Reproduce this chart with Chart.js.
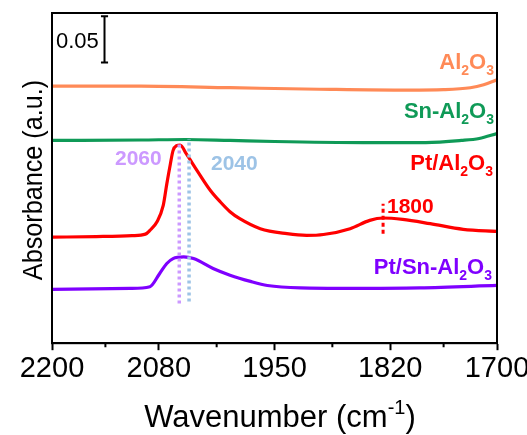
<!DOCTYPE html>
<html>
<head>
<meta charset="utf-8">
<script src="https://cdn.jsdelivr.net/npm/chart.js@4.4.1/dist/chart.umd.min.js"></script>
<style>
html,body{margin:0;padding:0;background:#fff;}
canvas{display:block;}
</style>
</head>
<body>
<canvas id="c" width="527" height="435"></canvas>
<script>
// ---- Data (wavenumber in cm-1, absorbance with vertical offsets) ----
const majorTicks = [2200, 2080, 1950, 1820, 1700];
const minorTicks = [2140, 2015, 1885, 1760];

const al2o3X = [2200, 2100, 2000, 1900, 1800, 1760, 1730, 1715, 1700];
const al2o3Y = [0.2724, 0.2724, 0.2708, 0.2692, 0.2682, 0.2687, 0.2708, 0.2740, 0.2793];

const snX = [2200, 2100, 2050, 2000, 1950, 1850, 1780, 1740, 1720, 1700];
const snY = [0.2149, 0.2154, 0.2159, 0.2149, 0.2138, 0.2127, 0.2127, 0.2149, 0.2170, 0.2222];

const ptX = [2200, 2150, 2110, 2095, 2090, 2082, 2075, 2071, 2067, 2064, 2060, 2056, 2049, 2037, 2022, 2011, 2000, 1989, 1966, 1936, 1914, 1895, 1865, 1843, 1828, 1806, 1775, 1738, 1700];
const ptY = [0.1124, 0.1130, 0.1140, 0.1156, 0.1196, 0.1288, 0.1460, 0.1689, 0.1900, 0.2041, 0.2094, 0.2101, 0.2006, 0.1830, 0.1619, 0.1499, 0.1394, 0.1320, 0.1214, 0.1161, 0.1143, 0.1152, 0.1214, 0.1302, 0.1327, 0.1312, 0.1267, 0.1207, 0.1186];

const ptSnX = [2200, 2112, 2090, 2079, 2071, 2064, 2052, 2041, 2019, 2000, 1977, 1958, 1921, 1865, 1787, 1700];
const ptSnY = [0.0570, 0.0581, 0.0599, 0.0739, 0.0845, 0.0897, 0.0915, 0.0897, 0.0792, 0.0721, 0.0655, 0.0612, 0.0586, 0.0581, 0.0586, 0.0612];

// reference markers: [wavenumber, yFrom, yTo]
const mark2060 = [2057, 0.0422, 0.2112];
const mark2040 = [2046, 0.0443, 0.2164];
const mark1800 = [1828, 0.1161, 0.1478];
// scale bar: [wavenumber, yBottom, yTop, halfCapWidth]
const scaleBar = [2141, 0.2974, 0.3466, 4];

const C_AL = '#FF8A57', C_SN = '#0F9A57', C_PT = '#FF0000', C_PTSN = '#7F00FF';
const C_2060 = '#CC99FF', C_2040 = '#9DC3E6';

function pts(xs, ys){ return xs.map((x,i)=>({x:x, y:ys[i]})); }
function vline(m){ return [{x:m[0], y:m[1]}, {x:m[0], y:m[2]}]; }

const sb = scaleBar;
const scaleBarPts = [
  {x:sb[0]+sb[3], y:sb[2]}, {x:sb[0]-sb[3], y:sb[2]}, {x:sb[0], y:null},
  {x:sb[0], y:sb[2]}, {x:sb[0], y:sb[1]}, {x:sb[0], y:null},
  {x:sb[0]+sb[3], y:sb[1]}, {x:sb[0]-sb[3], y:sb[1]}
];

const curve = (data, color) => ({data, order:1, borderColor:color, borderWidth:3.2, pointRadius:0, fill:false, cubicInterpolationMode:'monotone'});
const straight = (data, color, w, dash) => ({data, order:0, borderColor:color, borderWidth:w, pointRadius:0, fill:false, tension:0, borderDash:dash, borderCapStyle:'butt', spanGaps:false});

const FONT = "'Liberation Sans', Arial, sans-serif";

function drawRich(ctx, parts, x, y, align, color, size, bold){
  const w = bold ? 'bold ' : '';
  const small = Math.round(size*0.64);
  let total = 0;
  parts.forEach(p=>{
    ctx.font = w + (p[1] ? small : size) + 'px ' + FONT;
    total += ctx.measureText(p[0]).width;
  });
  let cx = align==='right' ? x-total : align==='center' ? x-total/2 : x;
  ctx.fillStyle = color;
  ctx.textBaseline = 'alphabetic';
  ctx.textAlign = 'left';
  parts.forEach(p=>{
    ctx.font = w + (p[1] ? small : size) + 'px ' + FONT;
    let dy = p[1]==='sub' ? size*0.27 : p[1]==='sup' ? -size*0.42 : 0;
    ctx.fillText(p[0], cx, y+dy);
    cx += ctx.measureText(p[0]).width;
  });
}

const decor = {
  id:'decor',
  afterDraw(chart){
    const ctx = chart.ctx, a = chart.chartArea, xs = chart.scales.x;
    ctx.save();
    // frame
    ctx.strokeStyle = '#000'; ctx.lineWidth = 2;
    ctx.strokeRect(a.left, a.top, a.right-a.left, a.bottom-a.top);
    // minor ticks
    ctx.beginPath();
    minorTicks.forEach(v=>{ const px = xs.getPixelForValue(v); ctx.moveTo(px, a.bottom); ctx.lineTo(px, a.bottom+4); });
    ctx.stroke();
    // labels
    drawRich(ctx, [['Al'],['2','sub'],['O'],['3','sub']], 494, 69, 'right', C_AL, 22, true);
    drawRich(ctx, [['Sn-Al'],['2','sub'],['O'],['3','sub']], 494, 118, 'right', C_SN, 22, true);
    drawRich(ctx, [['Pt/Al'],['2','sub'],['O'],['3','sub']], 493, 170, 'right', C_PT, 22, true);
    drawRich(ctx, [['Pt/Sn-Al'],['2','sub'],['O'],['3','sub']], 492, 274, 'right', C_PTSN, 22, true);
    drawRich(ctx, [['1800']], 387, 213, 'left', C_PT, 21, true);
    drawRich(ctx, [['2060']], 115, 165, 'left', C_2060, 21, true);
    drawRich(ctx, [['2040']], 211, 170, 'left', C_2040, 21, true);
    drawRich(ctx, [['0.05']], 56, 48, 'left', '#000', 22, false);
    // x title
    drawRich(ctx, [['Wavenumber (cm'],['-1','sup'],[')']], 280, 427, 'center', '#000', 31, false);
    // y title
    ctx.translate(42, 180);
    ctx.rotate(-Math.PI/2);
    ctx.scale(0.9, 1);
    drawRich(ctx, [['Absorbance (a.u.)']], 0, 0, 'center', '#000', 28, false);
    ctx.restore();
  }
};

new Chart(document.getElementById('c'), {
  type:'line',
  data:{
    datasets:[
      curve(pts(al2o3X, al2o3Y), C_AL),
      curve(pts(snX, snY), C_SN),
      curve(pts(ptX, ptY), C_PT),
      curve(pts(ptSnX, ptSnY), C_PTSN),
      straight(vline(mark2060), C_2060, 3.5, [3,3]),
      straight(vline(mark2040), C_2040, 3.5, [3,3]),
      straight(vline(mark1800), C_PT, 3, [4,3]),
      straight(scaleBarPts, '#000', 2, [])
    ]
  },
  options:{
    responsive:false,
    animation:false,
    layout:{padding:{left:52, right:30, top:13, bottom:48}},
    plugins:{legend:{display:false}, tooltip:{enabled:false}},
    scales:{
      x:{
        type:'linear', reverse:true, min:1700, max:2200,
        afterBuildTicks:(s)=>{ s.ticks = majorTicks.map(v=>({value:v})); },
        afterFit:(s)=>{ s.paddingLeft = 0; s.paddingRight = 0; },
        ticks:{font:{family:FONT, size:29}, color:'#000', autoSkip:false, maxRotation:0, padding:1, callback:(v)=>String(v)},
        grid:{drawOnChartArea:false, drawTicks:true, tickLength:7, tickWidth:2, tickColor:'#000'},
        border:{display:true, color:'#000', width:2}
      },
      y:{display:false, min:0, max:0.35}
    }
  },
  plugins:[decor]
});
</script>
</body>
</html>
